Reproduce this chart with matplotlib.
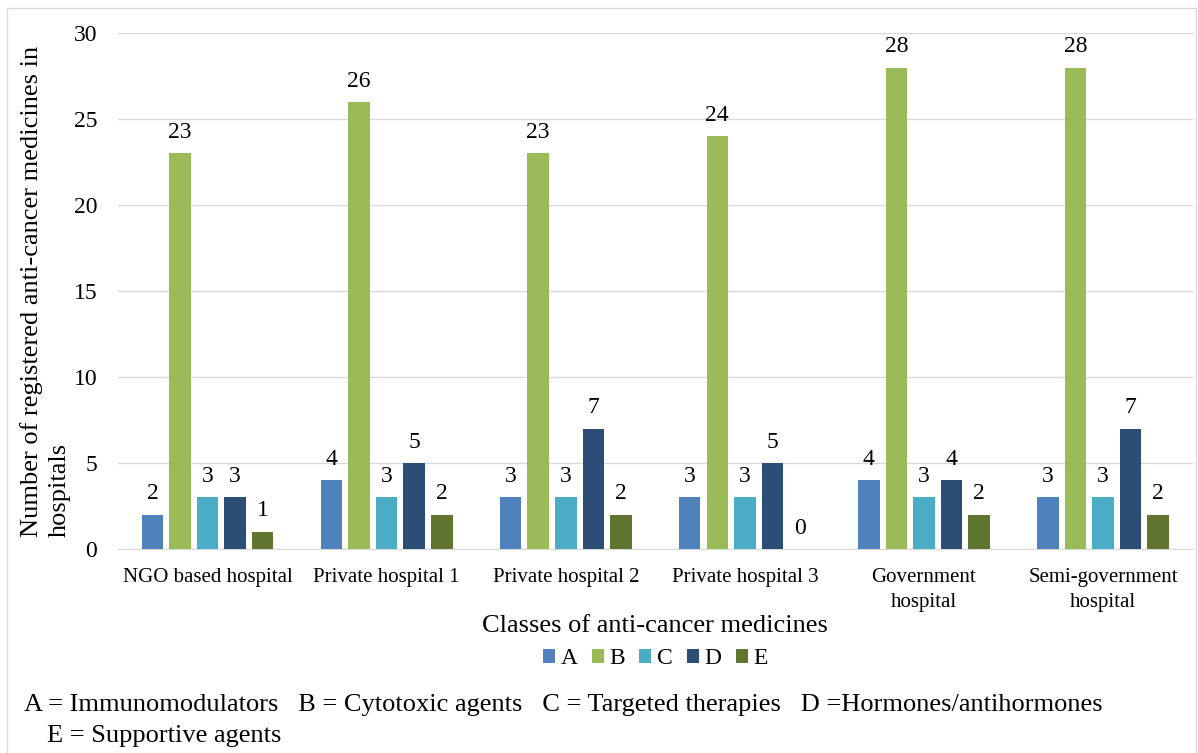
import matplotlib.pyplot as plt
import numpy as np

plt.rcParams['font.family'] = ['Liberation Serif', 'DejaVu Serif']

hospitals = ['NGO based hospital', 'Private hospital 1', 'Private hospital 2',
             'Private hospital 3', 'Government\nhospital', 'Semi-government\nhospital']
classes = ['A', 'B', 'C', 'D', 'E']
A = [2, 4, 3, 3, 4, 3]
B = [23, 26, 23, 24, 28, 28]
C = [3, 3, 3, 3, 3, 3]
D = [3, 5, 7, 5, 4, 7]
E = [1, 2, 2, 0, 2, 2]
colors = ['#4F81BD', '#9BBB59', '#4BACC6', '#2C4D75', '#5F7530']

fig = plt.figure(figsize=(11.98, 7.53), dpi=100)
ax = fig.add_axes([0.0985, 0.271, 0.897, 0.685])

x = np.arange(len(hospitals))
width = 0.12
step = 0.154
for i, (name, vals) in enumerate(zip(classes, [A, B, C, D, E])):
    pos = x + (i - 2) * step
    bars = ax.bar(pos, vals, width, color=colors[i], label=name, zorder=3)
    for b, v in zip(bars, vals):
        ax.text(b.get_x() + b.get_width() / 2, v + 0.6, str(v),
                ha='center', va='bottom', fontsize=17)

ax.set_ylim(0, 30)
ax.set_xlim(-0.5, len(hospitals) - 0.5)
ax.set_yticks(range(0, 31, 5))
ax.tick_params(axis='y', labelsize=17, length=0, pad=15)
ax.tick_params(axis='x', labelsize=15, length=0, pad=14)
ax.set_xticks(x)
ax.set_xticklabels(hospitals, linespacing=1.4)
ax.yaxis.grid(True, color='#D9D9D9', linewidth=1, zorder=0)
for s in ['top', 'right', 'left']:
    ax.spines[s].set_visible(False)
ax.spines['bottom'].set_color('#D9D9D9')

fig.text(0.547, 0.1687, 'Classes of anti-cancer medicines', fontsize=19,
         ha='center', va='center')
fig.text(0.0376, 0.6135, 'Number of registered anti-cancer medicines in\nhospitals',
         fontsize=19, rotation=90, ha='center', va='center', multialignment='left',
         linespacing=1.35)

ax.legend(loc='center', bbox_to_anchor=(0.547, 0.125), bbox_transform=fig.transFigure,
          ncol=5, frameon=False, fontsize=17, handlelength=0.5, handleheight=0.5,
          handletextpad=0.25, columnspacing=0.6)

fig.text(0.02, 0.0637, 'A = Immunomodulators   B = Cytotoxic agents   C = Targeted therapies   '
         'D =Hormones/antihormones', fontsize=19, va='center')
fig.text(0.039, 0.0225, 'E = Supportive agents', fontsize=19, va='center')

fig.patches.append(plt.Rectangle((0.006, -0.01), 0.992, 1.0, transform=fig.transFigure,
                                 fill=False, edgecolor='#D9D9D9', linewidth=1))

fig.savefig('out.png', dpi=100)
